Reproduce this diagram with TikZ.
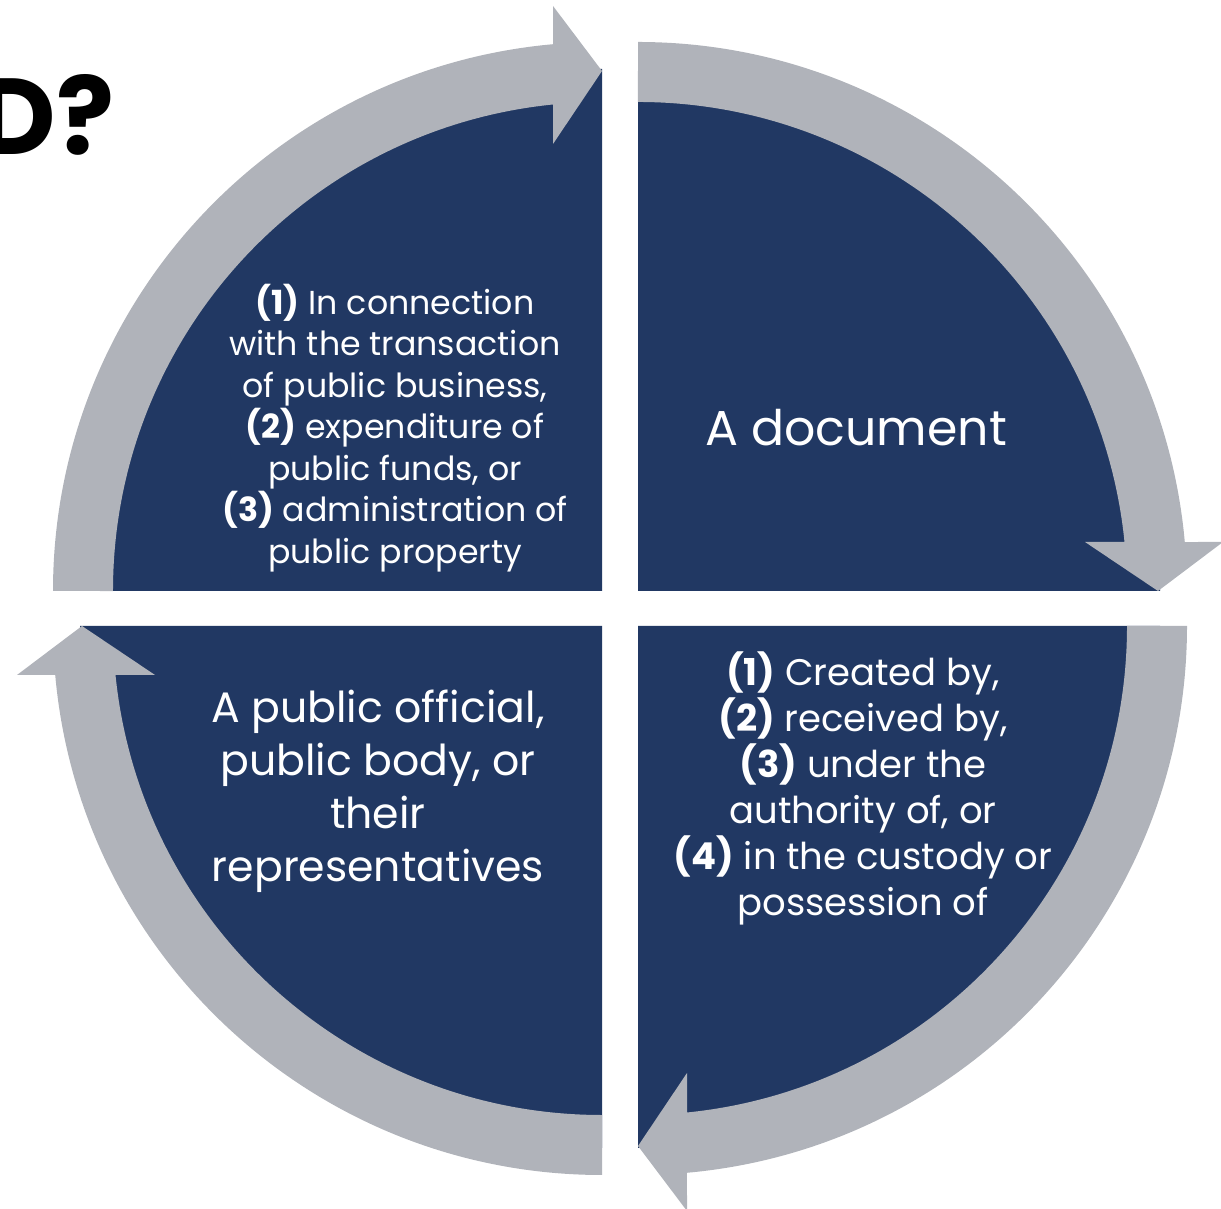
\documentclass[tikz,border=0pt]{standalone}
\usepackage{xcolor}
\usepackage{fontspec}
\setmainfont{Poppins}
\usepackage{tikz}
\usetikzlibrary{positioning}

\definecolor{navy}{RGB}{33,56,99}
\definecolor{arcgrey}{RGB}{176,179,186}

% one grey arc arrow, drawn for the top-right quadrant and turned for the others
\newcommand{\cyclearrow}[2]{%
    \fill[band, shift={#1}, rotate=#2]
        (0,549) arc[start angle=90, end angle=5.12, radius=549]
        -- (585,49) -- (520,0) -- (447,49) -- (486.5,49)
        arc[start angle=5.75, end angle=90, radius=489] -- cycle;
}

\begin{document}
\begin{tikzpicture}[
                x=0.5pt, y=0.5pt,
                quad/.style={fill=navy},
                band/.style={fill=arcgrey},
                smalltext/.style={text=white, align=center, font=\fontsize{16.6}{20.75}\selectfont},
                bigtext/.style={text=white, align=center, font=\fontsize{21.3}{26.5}\selectfont}
            ]
                \useasboundingbox (0,0) rectangle (1221,1209);
                \clip (0,0) rectangle (1221,1209);

                % Centres of the four quadrants
                \coordinate (TL) at (602,618);
                \coordinate (TR) at (638,618);
                \coordinate (BL) at (602,583);
                \coordinate (BR) at (638,583);

                % Quadrants
                \fill[quad] (TL) -- ++(-522,0) arc[start angle=180, end angle=90, radius=522] -- cycle;
                \fill[quad] (TR) -- ++(0,522) arc[start angle=90, end angle=0, radius=522] -- cycle;
                \fill[quad] (BR) -- ++(522,0) arc[start angle=0, end angle=-90, radius=522] -- cycle;
                \fill[quad] (BL) -- ++(0,-522) arc[start angle=-90, end angle=-180, radius=522] -- cycle;

                % Arrows
                \cyclearrow{(TR)}{0}
                \cyclearrow{(BR)}{-90}
                \cyclearrow{(BL)}{-180}
                \cyclearrow{(TL)}{90}

                % Texts
                \node[smalltext] (public) at (395,781) {\textbf{(1)} In connection\\with the transaction\\of public business,\\\textbf{(2)} expenditure of\\public funds, or\\\textbf{(3)} administration of\\public property};
                \node[text=white, font=\fontsize{24.5}{30}\selectfont] (doc) at (856,781) {A document};
                \node[bigtext] (official) at (378,418) {A public official,\\public body, or\\their\\representatives};
                \node[text=white, align=center, font=\fontsize{18.5}{23}\selectfont] (created) at (863,421) {\textbf{(1)} Created by,\\\textbf{(2)} received by,\\\textbf{(3)} under the\\authority of, or\\\textbf{(4)} in the custody or\\possession of};

                % Title, cut by the left edge
                \node[anchor=east, inner sep=0pt, font=\fontsize{54}{60}\selectfont\bfseries] (title) at (115,1094) {D?};
            \end{tikzpicture}
\end{document}
